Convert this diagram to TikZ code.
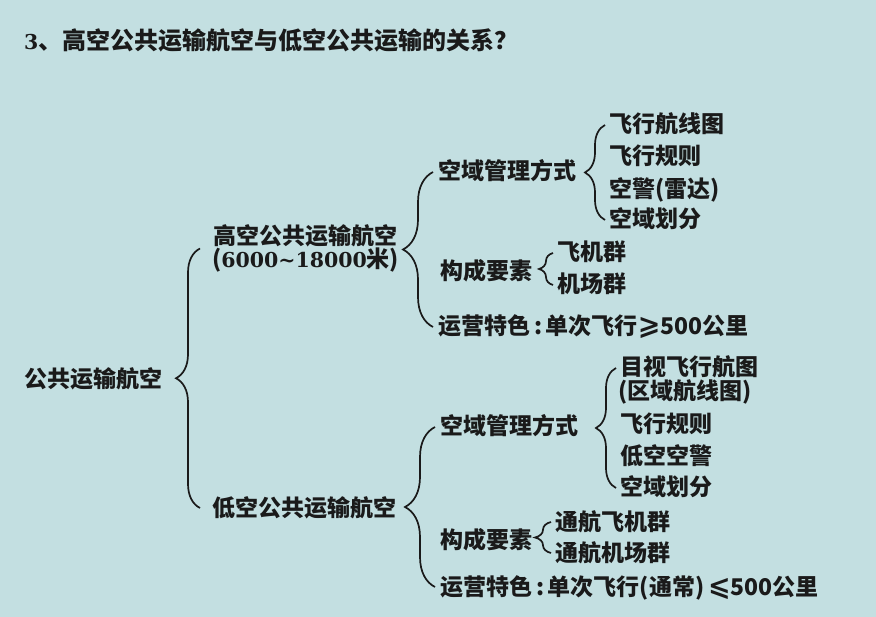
\documentclass[tikz,border=0pt]{standalone}
\usepackage{fontspec}
\setmainfont{Noto Sans CJK SC}
\newfontfamily\numfont{DejaVu Serif}
\newfontfamily\symfont{DejaVu Sans}
\usetikzlibrary{decorations.pathreplacing}
\definecolor{bgC}{HTML}{C3DFE1}
\definecolor{ink}{HTML}{1A1A1A}
\newcommand{\altnum}[1]{{\fontsize{20.5}{24}\selectfont\numfont #1}}
\newcommand{\altsym}[1]{{\fontsize{27}{24}\selectfont\symfont\bfseries #1}}

\begin{document}
\begin{tikzpicture}[x=1pt,y=-1pt,font=\fontsize{23}{24}\selectfont\bfseries,
  lbl/.style={anchor=west,inner sep=0pt,text=ink,text height=19.5pt,text depth=3.5pt},
  brc/.style={draw=ink,line width=1.7pt,decorate,decoration={brace,amplitude=#1}},
  brc/.default=20]
\fill[bgC] (0,0) rectangle (876,617);
\useasboundingbox (0,0) rectangle (876,617);

\node[lbl,font=\fontsize{24}{26}\selectfont\bfseries] (title) at (24,42)
  {\altnum{3}、高空公共运输航空与低空公共运输的关系？};

\node[lbl] (root) at (24,380) {公共运输航空};
\node[anchor=west,inner sep=0pt,text=ink,align=center] (hi) at (212,248.5)
  {高空公共运输航空\\[-1pt](\altnum{6000\char`\~18000}米)};
\node[lbl] (lo) at (212,508) {低空公共运输航空};

% high altitude
\node[lbl] (hA) at (438,172) {空域管理方式};
\node[lbl] (hA1) at (609,125) {飞行航线图};
\node[lbl] (hA2) at (609,157) {飞行规则};
\node[lbl] (hA3) at (609,190) {空警(雷达)};
\node[lbl] (hA4) at (609,220) {空域划分};
\node[lbl] (hB) at (440,272) {构成要素};
\node[lbl] (hB1) at (557,253) {飞机群};
\node[lbl] (hB2) at (557,285) {机场群};
\node[lbl] (hC) at (438,327) {运营特色\,:\,单次飞行\altsym{⩾}500公里};

% low altitude
\node[lbl] (lA) at (440,427) {空域管理方式};
\node[lbl] (lA1) at (620,368) {目视飞行航图};
\node[lbl] (lA1b) at (618,392) {(区域航线图)};
\node[lbl] (lA2) at (620,425) {飞行规则};
\node[lbl] (lA3) at (620,457) {低空空警};
\node[lbl] (lA4) at (620,488) {空域划分};
\node[lbl] (lB) at (440,540) {构成要素};
\node[lbl] (lB1) at (555,522) {通航飞机群};
\node[lbl] (lB2) at (555,553) {通航机场群};
\node[lbl] (lC) at (440,587) {运营特色\,:\,单次飞行(通常)\,\altsym{⩽}500公里};

\draw[brc=24] ([xshift=-12pt]lo.west) -- ([xshift=-12pt]hi.west);
\draw[brc=30] ([xshift=-5pt]hC.west) -- ([xshift=-5pt]hA.west);
\draw[brc] ([xshift=-4pt]hA4.west) -- ([xshift=-4pt]hA1.west);
\draw[brc=14] ([xshift=-4pt]hB2.west) -- ([xshift=-4pt]hB1.west);
\draw[brc=30] ([xshift=-5pt]lC.west) -- ([xshift=-5pt]lA.west);
\draw[brc] ([xshift=-4pt]lA4.west) -- ([xshift=-4pt]lA1.west);
\draw[brc=16] ([xshift=-4pt]lB2.west) -- ([xshift=-4pt]lB1.west);
\end{tikzpicture}
\end{document}
